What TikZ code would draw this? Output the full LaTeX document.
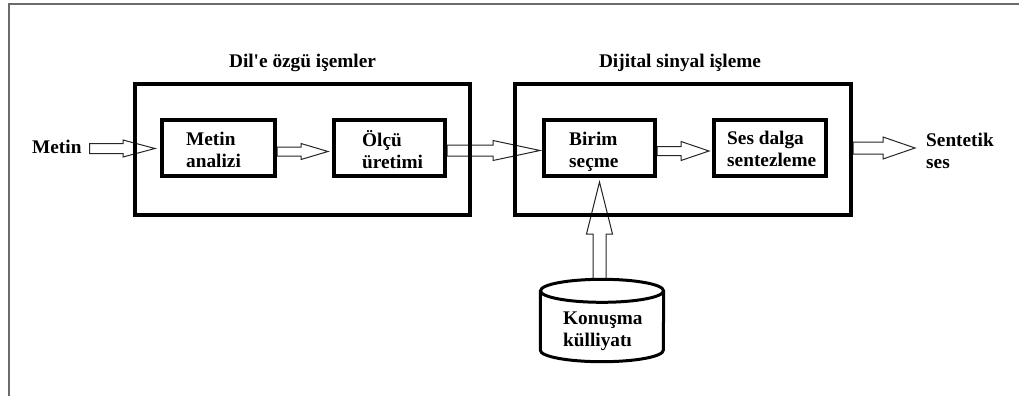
\documentclass[tikz,border=0pt]{standalone}
\usepackage{fontspec}
\setmainfont{Liberation Serif}
\usetikzlibrary{calc,backgrounds}

% first-line strut so that accented capitals do not shift the text block
\newcommand\topstrut{\rule{0pt}{18pt}}

% hollow block arrow pointing right: start, tip, head length, shaft half width, head half width
\newcommand\harrow[5]{%
  \draw[hollow] let \p1=#1, \p2=#2 in
    (\x1,\y2+#4) -- (\x2-#3,\y2+#4) -- (\x2-#3,\y2+#5) -- (\x2,\y2)
    -- (\x2-#3,\y2-#5) -- (\x2-#3,\y2-#4) -- (\x1,\y2-#4) -- cycle;}

% hollow block arrow pointing up: start, tip, head length, shaft half width, head half width
\newcommand\varrow[5]{%
  \draw[hollow] let \p1=#1, \p2=#2 in
    (\x2-#4,\y1) -- (\x2-#4,\y2-#3) -- (\x2-#5,\y2-#3) -- (\x2,\y2)
    -- (\x2+#5,\y2-#3) -- (\x2+#4,\y2-#3) -- (\x2+#4,\y1) -- cycle;}

\tikzset{
  box/.style={draw, line width=4pt, inner sep=0pt},
  stage/.style={box, minimum width=113pt, minimum height=56pt},
  txt/.style={font=\fontsize{19.3}{22}\selectfont\bfseries, inner sep=0pt, align=left},
  hollow/.style={draw=black!85, line width=1pt, fill=white, line join=miter},
  frame/.style={draw=black!58, line width=2pt},
  cyl/.style={line width=3pt},
}

\begin{document}
\begin{tikzpicture}[x=1pt, y=-1pt]
\useasboundingbox (0,0) rectangle (1019,396);

% window frame
\draw[frame] (1019,4) -- (9,4) -- (9,396);

% processing groups
\node[box, minimum width=335pt, minimum height=131pt] (lang) at (302.5,149.5) {};
\node[box, minimum width=336pt, minimum height=131pt] (dsp) at (683,149.5) {};
\node[txt, anchor=base] (lang-title) at (302.5,67) {Dil\textquotesingle e özgü işemler};
\node[txt, anchor=base] (dsp-title) at (680,67) {Dijital sinyal işleme};

% stages
\node[stage] (ma) at (218.5,148) {};
\node[stage, minimum width=111pt] (olcu) at (389.5,148) {};
\node[stage, minimum width=111pt] (birim) at (599.5,148) {};
\node[stage, minimum width=112pt] (ses) at (770,148) {};

\node[txt, anchor=north west] (ma-t) at (186,127.5) {\topstrut Metin\\analizi};
\node[txt, anchor=north west] (olcu-t) at (362,128) {\topstrut Ölçü\\üretimi};
\node[txt, anchor=north west] (birim-t) at (569,127) {\topstrut Birim\\seçme};
\node[txt, anchor=north west] (ses-t) at (727,126) {\topstrut Ses dalga\\sentezleme};

% input and output
\node[txt, anchor=base west] (metin) at (32,153) {Metin};
\node[txt, anchor=north west] (synth) at (926,128) {\topstrut Sentetik\\ses};
\coordinate (out) at (915,148);

% speech corpus (cylinder)
\node[minimum width=123pt, minimum height=59pt, inner sep=0pt] (tank) at (602,320.5) {};
\draw[cyl] (tank.north west) -- (tank.south west)
  arc[start angle=180, end angle=0, x radius=61.5, y radius=11.5] -- (tank.north east);
\draw[cyl] (tank.north) ellipse[x radius=61.5, y radius=11.5];
\node[txt, anchor=north west] (corpus) at (563,306) {\topstrut Konuşma\\külliyatı};

% block arrows, kept under the box borders
\begin{pgfonlayer}{background}
\harrow{($(metin.east)+(8,0)$)}{($(ma.west)+(-5,0.5)$)}{32pt}{5pt}{8.5pt}
\harrow{($(ma.east)+(0,3.5)$)}{($(olcu.west)+(-4,3.5)$)}{27pt}{4.5pt}{8pt}
\harrow{($(olcu.east)+(0,2.5)$)}{($(birim.west)+(-2,2.5)$)}{47pt}{5.5pt}{10pt}
\harrow{($(birim.east)+(0,3)$)}{($(ses.west)+(-3,3)$)}{28pt}{4.5pt}{9.5pt}
\harrow{(dsp.east)}{(out)}{32pt}{6pt}{11pt}
\varrow{($(tank.north)+(0,-11.5)$)}{($(birim.south)+(0,4)$)}{52pt}{6.5pt}{13pt}
\end{pgfonlayer}
\end{tikzpicture}
\end{document}
